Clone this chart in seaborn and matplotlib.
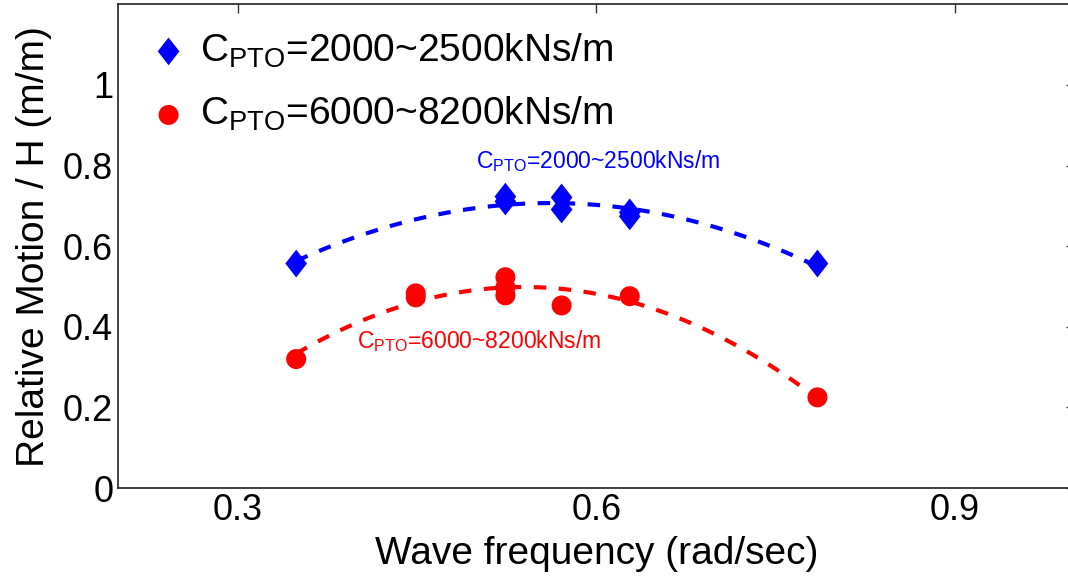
import numpy as np
import pandas as pd
import matplotlib
matplotlib.use("Agg")
import matplotlib.pyplot as plt
import seaborn as sns

# data
freq_low = [0.349, 0.524, 0.524, 0.571, 0.571, 0.628, 0.628, 0.785]
motion_low = [0.557, 0.723, 0.711, 0.721, 0.691, 0.684, 0.674, 0.557]

freq_high = [0.349, 0.449, 0.449, 0.524, 0.524, 0.524, 0.571, 0.628, 0.785]
motion_high = [0.320, 0.483, 0.473, 0.523, 0.498, 0.478, 0.453, 0.476, 0.225]

label_low = r"C$_{\mathrm{PTO}}$=2000~2500kNs/m"
label_high = r"C$_{\mathrm{PTO}}$=6000~8200kNs/m"

x_ticks = [0.3, 0.6, 0.9]
y_ticks = [0, 0.2, 0.4, 0.6, 0.8, 1.0]
y_tick_labels = ["0", "0.2", "0.4", "0.6", "0.8", "1"]

sns.set_style("white")
plt.rcParams["font.family"] = ["Liberation Sans", "DejaVu Sans"]
plt.rcParams["mathtext.fontset"] = "custom"
plt.rcParams["mathtext.rm"] = "Liberation Sans"
plt.rcParams["mathtext.it"] = "Liberation Sans:italic"
plt.rcParams["mathtext.bf"] = "Liberation Sans:bold"
plt.rcParams["text.color"] = "black"
plt.rcParams["axes.labelcolor"] = "black"

df_low = pd.DataFrame({"freq": freq_low, "motion": motion_low})
df_high = pd.DataFrame({"freq": freq_high, "motion": motion_high})

fig = plt.figure(figsize=(10.68, 5.81), dpi=100)
ax = fig.add_axes([0.1105, 0.160, 0.8956, 0.8325])

diamond = [(0, 1), (0.78, 0), (0, -1), (-0.78, 0)]
dash = (0, (3, 3))

# quadratic trend lines
sns.regplot(data=df_low, x="freq", y="motion", order=2, ci=None, scatter=False,
            ax=ax, line_kws=dict(color="blue", lw=3, linestyle=dash))
sns.regplot(data=df_high, x="freq", y="motion", order=2, ci=None, scatter=False,
            ax=ax, line_kws=dict(color="red", lw=3, linestyle=dash))

sns.scatterplot(data=df_low, x="freq", y="motion", marker=diamond, s=400,
                color="blue", edgecolor="none", ax=ax, label=label_low, zorder=3)
sns.scatterplot(data=df_high, x="freq", y="motion", marker="o", s=207,
                color="red", edgecolor="none", ax=ax, label=label_high, zorder=3)

ax.text(0.499, 0.793, label_low, color="blue", fontsize=16.5)
ax.text(0.400, 0.347, label_high, color="red", fontsize=16.5)

ax.set_xlim(0.2, 1.0)
ax.set_ylim(0, 1.2)
ax.set_xticks(x_ticks)
ax.set_xticklabels([str(v) for v in x_ticks])
ax.set_yticks(y_ticks)
ax.set_yticklabels(y_tick_labels)
ax.tick_params(direction="in", length=6.5, width=1, labelsize=26,
               top=True, right=True, colors="#333333", labelcolor="black")
for sp in ax.spines.values():
    sp.set_linewidth(1.2)
    sp.set_color("#222222")

ax.set_xlabel("Wave frequency (rad/sec)", fontsize=28, labelpad=6)
ax.set_ylabel("Relative Motion / H (m/m)", fontsize=28, labelpad=8)

handles, labels = ax.get_legend_handles_labels()
ax.legend(handles, labels, loc="upper left", bbox_to_anchor=(0.0, 1.0),
          frameon=False, fontsize=28, handletextpad=0.2, labelspacing=0.65,
          handlelength=1.2, borderaxespad=0.3)

fig.savefig("out.png", dpi=100)
